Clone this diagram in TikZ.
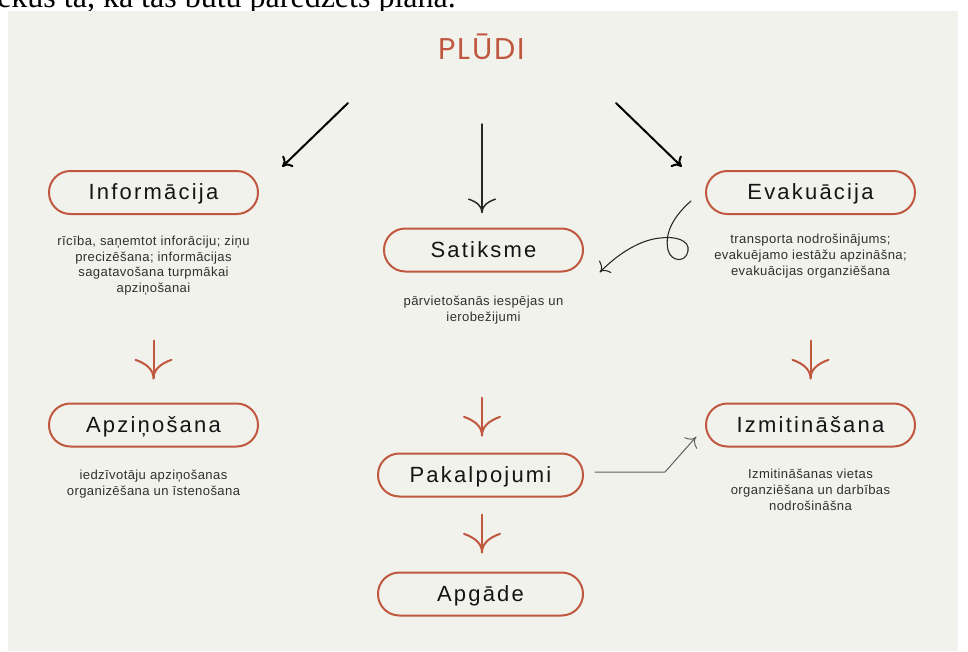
\documentclass[tikz,border=0pt]{standalone}
\usepackage{fontspec}
\setmainfont{Liberation Sans}
\newfontfamily\titlefont[LetterSpace=6]{Poppins}
\newfontfamily\labelfont[LetterSpace=10]{Liberation Sans}
\newfontfamily\descfont[LetterSpace=3]{Liberation Sans}
\newfontfamily\serifface{Liberation Serif}
\usetikzlibrary{arrows.meta,calc}

\definecolor{terra}{RGB}{192,88,64}
\definecolor{panel}{RGB}{242,242,237}
\definecolor{ink}{RGB}{20,20,20}
\definecolor{desc}{RGB}{48,48,48}
\definecolor{wire}{RGB}{95,95,95}

% open arrow head whose barbs sweep outwards from the tip
\pgfdeclarearrow{
  name = Swoop,
  parameters = {\the\pgfarrowlength,\the\pgfarrowwidth},
  setup code = {
    \pgfarrowssettipend{0pt}
    \pgfarrowssetlineend{-0.5\pgflinewidth}
    \pgfarrowsupperhullpoint{-\pgfarrowlength}{.5\pgfarrowwidth}
    \pgfarrowsupperhullpoint{0pt}{0pt}
    \pgfarrowssavethe\pgfarrowlength
    \pgfarrowssavethe\pgfarrowwidth
  },
  drawing code = {
    \pgfsetdash{}{0pt}
    \pgfsetroundcap
    \pgfsetroundjoin
    \pgfpathmoveto{\pgfqpoint{-\pgfarrowlength}{.5\pgfarrowwidth}}
    \pgfpathcurveto{\pgfqpoint{-.79\pgfarrowlength}{.19\pgfarrowwidth}}{\pgfqpoint{-.47\pgfarrowlength}{0pt}}{\pgfpointorigin}
    \pgfpathcurveto{\pgfqpoint{-.47\pgfarrowlength}{0pt}}{\pgfqpoint{-.79\pgfarrowlength}{-.19\pgfarrowwidth}}{\pgfqpoint{-\pgfarrowlength}{-.5\pgfarrowwidth}}
    \pgfusepathqstroke
  },
  defaults = {length = 10pt, width = 20pt}
}

\begin{document}
\begin{tikzpicture}[x=0.75pt,y=-0.75pt,
  box/.style={draw=terra, line width=1.5pt, rounded corners=16pt,
    minimum height=32.25pt, inner sep=0pt, text=ink,
    font=\labelfont\fontsize{16.5pt}{19pt}\selectfont,
    text height=11pt, text depth=0pt},
  sidebox/.style={box, minimum width=156.75pt},
  midbox/.style={box, minimum width=153.75pt},
  note/.style={font=\descfont\fontsize{9.8pt}{11.85pt}\selectfont,
    text=desc, align=center, inner sep=0pt, anchor=north},
  flow/.style={draw=terra, line width=1.5pt, line cap=round,
    -{Swoop[length=14pt,width=27pt]}},
  lead/.style={draw=black, line width=1.5pt, line cap=round,
    -{Swoop[length=5pt,width=10pt]}},
  drop/.style={draw=black!85, line width=1.1pt, line cap=round,
    -{Swoop[length=10pt,width=20pt]}},
  curl/.style={draw=black!85, line width=0.8pt, line cap=round,
    -{Swoop[length=5.5pt,width=12pt]}},
  wirearrow/.style={draw=wire, line width=0.75pt, line cap=round,
    -{Swoop[length=6pt,width=12pt]}}
]
\useasboundingbox (0,0) rectangle (968,651);
\fill[white] (0,0) rectangle (968,651);

% page text above the panel, cut off by the crop
\begin{scope}
  \clip (0,0) rectangle (968,11);
  \node[anchor=base west, inner sep=0pt,
    font=\serifface\fontsize{24pt}{26pt}\selectfont] (caption)
    at (-3,7.5) {ekus ta, kā tas būtu paredzēts plānā.};
\end{scope}

% panel
\fill[panel] (8,11) rectangle (958,651);

% title
\node[font=\titlefont\fontsize{22.5pt}{26pt}\selectfont, text=terra,
  inner sep=0pt, text height=15.5pt, text depth=0pt] (title) at (482,49.5) {PLŪDI};

% boxes
\node[sidebox] (info) at (153.5,192.5) {Informācija};
\node[box, minimum width=149.25pt] (sat) at (483.5,250) {Satiksme};
\node[sidebox] (evak) at (810.5,192.5) {Evakuācija};
\node[sidebox] (apz) at (153.5,425) {Apziņošana};
\node[midbox] (pak) at (480.5,475) {Pakalpojumi};
\node[sidebox] (izm) at (810.5,425) {Izmitināšana};
\node[midbox] (apg) at (480.5,594) {Apgāde};

% descriptions
\node[note] (infod) at (153.5,235.5) {rīcība, saņemtot inforāciju; ziņu\\precizēšana; informācijas\\sagatavošana turpmākai\\apziņošanai};
\node[note] (satd) at (483.5,295.5) {pārvietošanās iespējas un\\ierobežijumi};
\node[note] (evakd) at (810.5,234) {transporta nodrošinājums;\\evakuējamo iestāžu apzināšna;\\evakuācijas organziēšana};
\node[note] (apzd) at (153.5,470) {iedzīvotāju apziņošanas\\organizēšana un īstenošana};
\node[note] (izmd) at (810.5,469) {Izmitināšanas vietas\\organziēšana un darbības\\nodrošināšna};

% connector ends
\coordinate (l1a) at ($(title)+(-134,53.5)$);
\coordinate (l1b) at ($(info.north)+(129.5,-4)$);
\coordinate (l2a) at ($(title)+(0,74.5)$);
\coordinate (l2b) at ($(sat.north)+(-1.5,-15)$);
\coordinate (l3a) at ($(title)+(134,53.5)$);
\coordinate (l3b) at ($(evak.north)+(-129.5,-4)$);
\coordinate (c0) at ($(evak.west)+(-14,8.5)$);
\coordinate (c1) at ($(sat.east)+(16,22)$);

% arrows from the title
\draw[lead] (l1a) -- (l1b);
\draw[drop] (l2a) -- (l2b);
\draw[lead] (l3a) -- (l3b);

% looping arrow from Evakuācija to Satiksme
\draw[curl] (c0) .. controls (675,215) and (664,232) .. (668,250)
  .. controls (671,262) and (686,263) .. (688,251)
  .. controls (690,240) and (675,236) .. (660,238)
  .. controls (640,240) and (619,253) .. (c1);

% downward steps
\draw[flow] ($(apz.north)+(0,-62)$) -- ($(apz.north)+(0,-24)$);
\draw[flow] ($(izm.north)+(0,-62)$) -- ($(izm.north)+(0,-24)$);
\draw[flow] ($(pak.north)+(1.5,-55)$) -- ($(pak.north)+(1.5,-17)$);
\draw[flow] ($(apg.north)+(1.5,-57)$) -- ($(apg.north)+(1.5,-19)$);

% Pakalpojumi to Izmitināšana
\draw[wirearrow] ($(pak.east)+(11,-3)$) -- ++(70,0) -- ($(izm.west)+(-9,12)$);
\end{tikzpicture}
\end{document}
